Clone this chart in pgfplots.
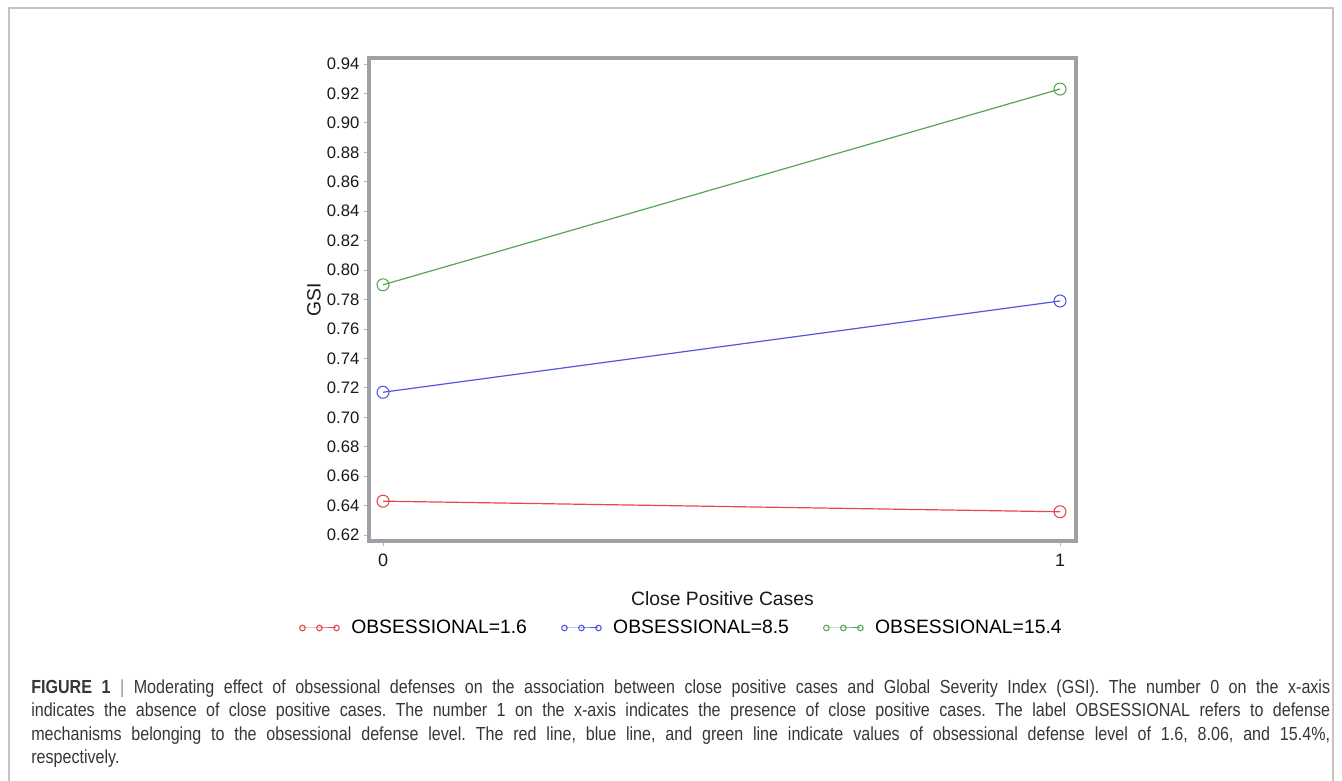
\documentclass[border=0pt]{standalone}
\usepackage{fontspec}
\setmainfont{Liberation Sans}
\newfontfamily\capfont{Liberation Sans}[FakeStretch=0.85]
\usepackage{pgfplots}
\pgfplotsset{compat=1.18}
\definecolor{sred}{RGB}{230,70,80}
\definecolor{sblue}{RGB}{85,85,225}
\definecolor{sgreen}{RGB}{85,165,85}
\definecolor{frame}{RGB}{158,161,165}
\definecolor{border}{RGB}{195,195,195}
\definecolor{captxt}{RGB}{55,55,55}
\pgfplotstableread{
x red blue green
0 0.643 0.717 0.790
1 0.6358 0.779 0.923
}\gsidata
\begin{document}
\frenchspacing
\begin{tikzpicture}[x=0.75pt,y=0.75pt]
\useasboundingbox (0,0) rectangle (1342,781);
% outer border
\draw[border,line width=0.9pt] (9,-2) -- (9,773) -- (1333,773) -- (1333,-2);
\begin{axis}[
  at={(276.75pt,179.625pt)}, anchor=south west,
  scale only axis, width=530.25pt, height=362.625pt,
  xmin=-0.0207, xmax=1.0236, ymin=0.6156, ymax=0.9441,
  xtick={0,1}, xticklabels={0,1},
  ytick={0.62,0.64,...,0.941},
  yticklabel style={/pgf/number format/.cd,fixed,fixed zerofill,precision=2},
  /pgf/number format/assume math mode=true,
  tick label style={font=\fontsize{12.5}{15}\selectfont, color=black!90},
  xticklabel style={yshift=-2pt, font=\fontsize{13.5}{16}\selectfont},
  tick align=outside, xtick pos=bottom, ytick pos=left,
  major tick length=3.75pt,
  every tick/.style={frame!80, line width=0.6pt},
  axis line style={frame, line width=3pt},
  xlabel={Close Positive Cases},
  ylabel={GSI},
  label style={font=\fontsize{14.5}{17}\selectfont, color=black!90},
  xlabel style={at={(axis description cs:0.5,-0.1189)}, anchor=center},
  ylabel style={at={(axis description cs:-0.0778,0.5)}, anchor=center},
  legend columns=3,
  legend style={at={(axis description cs:0.4427,-0.1789)}, anchor=center,
    draw=none, fill=none, font=\fontsize{14.5}{17}\selectfont,
    /tikz/every odd column/.append style={column sep=7pt},
    /tikz/every even column/.append style={column sep=24pt}},
  legend cell align=left,
  legend image code/.code={\draw[#1, mark size=2.1pt, line width=0.75pt] plot coordinates {(0pt,0pt) (12.75pt,0pt) (25.5pt,0pt)};},
]
\addplot[sred, line width=0.9pt, mark=o, mark size=4.5pt, mark options={line width=0.8pt}] table[x=x,y=red]{\gsidata};
\addlegendentry{OBSESSIONAL=1.6}
\addplot[sblue, line width=0.9pt, mark=o, mark size=4.5pt, mark options={line width=0.8pt}] table[x=x,y=blue]{\gsidata};
\addlegendentry{OBSESSIONAL=8.5}
\addplot[sgreen, line width=0.9pt, mark=o, mark size=4.5pt, mark options={line width=0.8pt}] table[x=x,y=green]{\gsidata};
\addlegendentry{OBSESSIONAL=15.4}
\end{axis}
% caption
\begin{scope}[every node/.style={anchor=base west, inner sep=0pt, text=captxt, font=\capfont\fontsize{14.2}{18}\selectfont}]
\node at (31,87) {\makebox[974.25pt][s]{\textbf{FIGURE 1} {\color{black!45}|} Moderating effect of obsessional defenses on the association between close positive cases and Global Severity Index (GSI). The number 0 on the x-axis}};
\node at (31,64) {\makebox[974.25pt][s]{indicates the absence of close positive cases. The number 1 on the x-axis indicates the presence of close positive cases. The label OBSESSIONAL refers to defense}};
\node at (31,40) {\makebox[974.25pt][s]{mechanisms belonging to the obsessional defense level. The red line, blue line, and green line indicate values of obsessional defense level of 1.6, 8.06, and 15.4\%,}};
\node at (31,17) {respectively.};
\end{scope}
\end{tikzpicture}
\end{document}
